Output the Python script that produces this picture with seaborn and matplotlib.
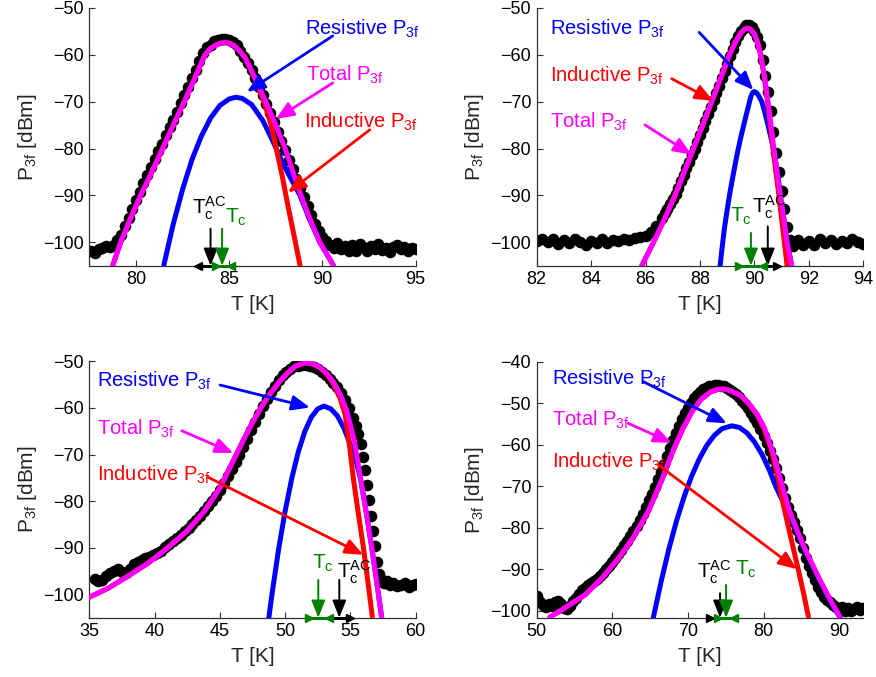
import matplotlib
matplotlib.use("Agg")
import matplotlib.pyplot as plt
import seaborn as sns
import pandas as pd

# ===================== DATA =====================
# ---- top-left panel ----
tl_dots_T = [77.6, 77.8, 78.0, 78.2, 78.4, 78.6, 78.8, 79.0, 79.2, 79.4, 79.6, 79.8, 80.0, 80.2, 80.4, 80.6, 80.8,
             81.0, 81.2, 81.4, 81.6, 81.8, 82.0, 82.2, 82.4, 82.6, 82.8, 83.0, 83.2, 83.4, 83.6, 83.8, 84.0, 84.2,
             84.4, 84.6, 84.8, 85.0, 85.2, 85.4, 85.6, 85.8, 86.0, 86.2, 86.4, 86.6, 86.8, 87.0, 87.2, 87.4, 87.6,
             87.8, 88.0, 88.2, 88.4, 88.6, 88.8, 89.0, 89.2, 89.4, 89.6, 89.8, 90.0, 90.2, 90.4, 90.6, 90.8, 91.0,
             91.2, 91.4, 91.6, 91.8, 92.0, 92.2, 92.4, 92.6, 92.8, 93.0, 93.2, 93.4, 93.6, 93.8, 94.0, 94.2, 94.4,
             94.6, 94.8, 95.0]
tl_dots_P = [-101.8, -102.2, -101.5, -101.2, -100.8, -101.0, -100.5, -99.6, -98.5, -96.6, -94.8, -92.9, -91.0,
             -89.2, -87.4, -85.7, -84.0, -82.3, -80.6, -79.0, -77.2, -75.5, -73.8, -72.1, -70.3, -68.6, -66.8,
             -65.0, -63.2, -61.4, -59.6, -58.4, -57.8, -57.1, -56.8, -56.6, -56.6, -56.8, -57.2, -57.9, -59.2,
             -60.4, -61.8, -63.3, -65.0, -66.8, -68.6, -70.4, -72.4, -74.4, -76.4, -78.4, -80.4, -82.4, -84.4,
             -86.4, -88.4, -90.4, -92.3, -94.2, -96.0, -97.6, -98.8, -99.8, -100.5, -101.2, -100.2, -101.5,
             -100.8, -101.8, -100.6, -101.9, -100.4, -101.0, -101.9, -100.8, -101.5, -100.3, -101.7, -101.2,
             -102.0, -101.0, -100.5, -101.4, -100.9, -101.8, -101.2, -101.5]
tl_total_T = [78.75, 79.18, 79.7, 80.25, 80.85, 81.43, 82.0, 82.59, 83.15, 83.7, 84.0, 84.3, 84.55, 84.77, 85.0,
              85.25, 85.5, 85.84, 86.4, 86.96, 87.5, 88.0, 88.42, 88.85, 89.33, 89.86, 90.6]
tl_total_P = [-105, -100, -95, -90, -85, -80, -75, -70, -65, -60, -58.6, -57.9, -57.5, -57.4, -57.5, -58.0,
              -58.9, -60.5, -65.0, -70.0, -75.0, -80.0, -85.0, -90.0, -95.0, -100.0, -105.0]
tl_induct_T = [78.75, 79.18, 79.7, 80.25, 80.85, 81.43, 82.0, 82.59, 83.15, 83.7, 84.0, 84.3, 84.55, 84.77, 85.0,
               85.25, 85.5, 85.84, 86.4, 86.9, 87.25, 87.54, 87.85, 88.16, 88.5, 88.8]
tl_induct_P = [-105, -100, -95, -90, -85, -80, -75, -70, -65, -60, -58.6, -57.9, -57.5, -57.4, -57.5, -58.0,
               -58.9, -60.5, -65.2, -70.4, -75.0, -80.3, -86.0, -92.4, -99.0, -105.0]
tl_resist_T = [81.5, 82.0, 82.5, 83.0, 83.5, 84.0, 84.5, 85.0, 85.36, 85.7, 86.2, 86.8, 87.27, 87.75, 88.2, 88.8,
               89.3, 89.86, 90.6]
tl_resist_P = [-104.8, -96.1, -88.7, -82.4, -77.4, -73.5, -70.8, -69.4, -69.05, -69.3, -70.6, -74.0, -77.8, -82.0,
               -85.6, -90.0, -95.0, -100.0, -105.0]
tl_xticks = [80, 85, 90, 95]
tl_yticks = [-100, -90, -80, -70, -60, -50]
tl_tcac, tl_tcac_lo, tl_tcac_hi = 84.0, 83.35, 84.2
tl_tc, tl_tc_lo, tl_tc_hi = 84.62, 84.3, 85.1

# ---- top-right panel ----
tr_dots_T = [82.0, 82.2, 82.4, 82.6, 82.8, 83.0, 83.2, 83.4, 83.6, 83.8, 84.0, 84.2, 84.4, 84.6, 84.8, 85.0, 85.2,
             85.4, 85.6, 85.8, 86.0, 86.2, 86.4,
             86.6, 86.7, 86.8, 86.9, 87.0, 87.1, 87.2, 87.3, 87.4, 87.5, 87.6, 87.7, 87.8, 87.9, 88.0, 88.1, 88.2,
             88.3, 88.4, 88.5, 88.6, 88.7, 88.8, 88.9, 89.0, 89.1, 89.2, 89.3, 89.4, 89.5, 89.6, 89.7, 89.8, 89.9,
             90.0, 90.1, 90.2, 90.3, 90.4, 90.5, 90.6, 90.7, 90.8, 90.9, 91.0, 91.1, 91.2, 91.3, 91.4,
             91.6, 91.8, 92.0, 92.2, 92.4, 92.6, 92.8, 93.0, 93.2, 93.4, 93.6, 93.8, 94.0]
tr_dots_P = [-99.8, -99.2, -100.0, -99.4, -100.3, -99.6, -100.2, -99.3, -99.9, -100.5, -99.7, -100.1, -99.4,
             -100.2, -99.5, -99.8, -99.2, -99.6, -99.0, -98.9, -98.6, -97.8, -96.5,
             -94.8, -93.8, -92.8, -91.8, -90.8, -89.6, -88.4, -87.0, -85.6, -84.2, -82.8, -81.4, -80.0, -78.6,
             -77.1, -75.6, -74.1, -72.6, -71.1, -69.6, -68.1, -66.6, -65.0, -63.5, -61.9, -60.3, -58.7, -57.3,
             -56.0, -55.0, -54.2, -53.7, -53.6, -54.0, -54.9, -56.2, -57.8, -61.0, -64.5, -68.0, -72.0, -76.5,
             -81.0, -85.0, -89.0, -93.0, -96.8, -99.5, -100.8,
             -99.6, -100.5, -99.8, -100.6, -99.3, -100.2, -99.5, -100.4, -99.7, -100.1, -99.2, -99.9, -100.3]
tr_total_T = [85.86, 86.29, 86.7, 87.08, 87.42, 87.76, 88.1, 88.43, 88.76, 89.08, 89.3, 89.5, 89.65, 89.74, 89.85,
              90.0, 90.12, 90.23, 90.38, 90.5, 90.61, 90.71, 90.83, 90.95, 91.08, 91.2, 91.37]
tr_total_P = [-105, -100, -95, -90, -85, -80, -75, -70, -65, -60, -57.3, -55.3, -54.5, -54.3, -54.5, -55.6, -57.5,
              -60, -65, -70, -75, -80, -85, -90, -95, -100, -105]
tr_induct_T = [85.86, 86.29, 86.7, 87.08, 87.42, 87.76, 88.1, 88.43, 88.76, 89.08, 89.3, 89.5, 89.65, 89.74, 89.85,
               90.0, 90.12, 90.23, 90.37, 90.48, 90.58, 90.68, 90.79, 90.9, 91.0, 91.1, 91.2]
tr_induct_P = [-105, -100, -95, -90, -85, -80, -75, -70, -65, -60, -57.3, -55.3, -54.5, -54.3, -54.5, -55.6, -57.5,
               -60, -65, -70, -75, -80, -85, -90, -95, -100, -105]
tr_resist_T = [88.74, 88.79, 88.89, 88.99, 89.09, 89.19, 89.29, 89.39, 89.49, 89.59, 89.69, 89.79, 89.84, 89.89,
               89.94, 89.99, 90.04, 90.09, 90.14, 90.19, 90.27, 90.35, 90.43, 90.5, 90.6, 90.7, 90.8, 90.88, 90.95,
               91.08, 91.2, 91.37]
tr_resist_P = [-105.0, -102.3, -97.3, -93.4, -89.7, -86.5, -83.4, -80.5, -77.8, -75.4, -73.0, -70.7, -69.5, -68.6,
               -68.0, -67.84, -67.95, -68.2, -68.6, -69.1, -70.0, -71.6, -73.4, -75.0, -77.5, -80.0, -83.5, -86.5,
               -90.0, -95.0, -100.0, -105.0]
tr_xticks = [82, 84, 86, 88, 90, 92, 94]
tr_yticks = [-100, -90, -80, -70, -60, -50]
tr_tcac, tr_tcac_lo, tr_tcac_hi = 90.49, 90.32, 90.82
tr_tc, tr_tc_lo, tr_tc_hi = 89.87, 89.44, 90.3

# ---- bottom-left panel ----
bl_dots_T = [35.4, 35.7, 36.0, 36.3, 36.6, 36.9, 37.2, 37.5, 37.8, 38.1, 38.4, 38.7, 39.0, 39.3, 39.6, 39.9, 40.2,
             40.5, 40.8, 41.1, 41.4, 41.7, 42.0, 42.3, 42.6, 42.9, 43.2, 43.5, 43.8, 44.1, 44.4, 44.7, 45.0, 45.3,
             45.6, 45.9, 46.2, 46.5, 46.8, 47.1, 47.4, 47.7, 48.0, 48.3, 48.6, 48.9, 49.2, 49.5, 49.8, 50.1, 50.4,
             50.7, 51.0, 51.3, 51.6, 51.9, 52.2, 52.5, 52.8, 53.1, 53.4, 53.7, 54.0, 54.3, 54.6, 54.9,
             55.2, 55.4, 55.6, 55.8, 56.0, 56.15, 56.3, 56.45, 56.6, 56.75, 56.9, 57.05, 57.2,
             57.4, 57.6, 57.8, 58.0, 58.3, 58.6, 58.9, 59.2, 59.5, 59.8, 60.0]
bl_dots_P = [-96.7, -97.2, -96.9, -96.0, -95.5, -95.0, -94.6, -95.2, -95.4, -94.6, -93.4, -93.0, -92.7, -92.3,
             -92.0, -91.6, -91.2, -90.6, -89.9, -89.2, -88.6, -88.0, -87.3, -86.5, -85.7, -84.9, -84.0, -83.1,
             -82.1, -81.1, -80.0, -78.8, -77.5, -76.1, -74.7, -73.2, -71.6, -70.0, -68.3, -66.6, -64.8, -63.0,
             -61.3, -59.6, -58.0, -56.5, -55.2, -54.0, -53.0, -52.2, -51.6, -51.1, -50.9, -50.8, -50.8, -51.0,
             -51.3, -51.7, -52.2, -52.9, -53.7, -54.6, -55.5, -56.8, -58.3, -60.1,
             -62.2, -63.8, -65.6, -67.7, -70.5, -73.3, -76.5, -79.8, -83.1, -86.4, -89.7, -93.0, -95.6,
             -97.0, -97.6, -97.2, -98.0, -97.6, -98.3, -97.9, -97.5, -98.4, -98.0, -97.8]
bl_total_T = [35.0, 36.5, 38.0, 39.5, 41.0, 42.45, 43.8, 45.0, 46.03, 46.8, 47.56, 48.2, 48.84, 49.5, 50.11, 50.8,
              51.57, 52.1, 52.67, 53.2, 53.69, 54.2, 54.71, 55.3, 55.8, 56.25, 56.63, 57.0, 57.4]
bl_total_P = [-100.6, -98.6, -96.0, -93.3, -90.0, -86.5, -82.2, -77.2, -71.3, -66.9, -62.8, -59.7, -57.0, -54.6,
              -52.7, -51.0, -50.3, -50.5, -51.3, -52.6, -54.4, -57.0, -60.5, -67.0, -75.5, -83.0, -89.8, -97.0,
              -105.0]
bl_induct_T = [35.0, 36.5, 38.0, 39.5, 41.0, 42.45, 43.8, 45.0, 46.03, 46.8, 47.56, 48.2, 48.84, 49.5, 50.11, 50.8,
               51.57, 52.1, 52.67, 53.2, 53.69, 54.2, 54.6, 54.95, 55.22, 55.6, 55.99, 56.35, 56.68]
bl_induct_P = [-100.6, -98.6, -96.0, -93.3, -90.0, -86.5, -82.2, -77.2, -71.3, -66.9, -62.8, -59.7, -57.0, -54.6,
               -52.7, -51.0, -50.3, -50.5, -51.4, -52.8, -54.8, -57.8, -61.5, -68.5, -75.0, -82.5, -89.8, -97.5,
               -104.8]
bl_resist_T = [48.7, 49.0, 49.5, 50.0, 50.5, 51.0, 51.5, 52.0, 52.5, 52.97, 53.5, 54.0, 54.5, 55.0, 55.4, 55.8,
               56.25, 56.63, 57.0, 57.4]
bl_resist_P = [-106.1, -99.8, -90.3, -82.1, -75.2, -69.5, -65.1, -62.0, -60.2, -59.6, -60.2, -61.7, -64.3, -67.9,
               -71.0, -75.5, -83.0, -89.8, -97.0, -105.0]
bl_xticks = [35, 40, 45, 50, 55, 60]
bl_yticks = [-100, -90, -80, -70, -60, -50]
bl_tcac, bl_tcac_lo, bl_tcac_hi = 54.15, 53.44, 54.97
bl_tc, bl_tc_lo, bl_tc_hi = 52.54, 51.83, 53.36

# ---- bottom-right panel ----
br_dots_T = [50.0, 50.4, 50.8, 51.2, 51.6, 52.0, 52.4, 52.8, 53.2, 53.6, 54.0, 54.4, 54.8, 55.2, 55.6, 56.0, 56.4,
             56.8, 57.2, 57.6, 58.0, 58.4, 58.8, 59.2, 59.6, 60.0, 60.4, 60.8, 61.2, 61.6, 62.0, 62.4, 62.8, 63.2,
             63.6, 64.0, 64.4, 64.8, 65.2, 65.6, 66.0, 66.4, 66.8, 67.2, 67.6, 68.0, 68.4, 68.8, 69.2, 69.6, 70.0,
             70.4, 70.8, 71.2, 71.6, 72.0, 72.4, 72.8, 73.2, 73.6, 74.0, 74.4, 74.8, 75.2, 75.6, 76.0, 76.4, 76.8,
             77.2, 77.6, 78.0, 78.4, 78.8, 79.2, 79.6, 80.0, 80.4, 80.8, 81.2, 81.6, 82.0, 82.4, 82.8, 83.2, 83.6,
             84.0, 84.4, 84.8, 85.2, 85.6, 86.0, 86.4, 86.8, 87.2, 87.6, 88.0, 88.4, 88.8, 89.2, 89.6, 90.0, 90.4,
             90.8, 91.2, 91.6, 92.0, 92.4, 92.8, 93.2]
br_dots_P = [-96.5, -97.8, -98.6, -99.0, -98.3, -98.8, -97.9, -97.6, -98.4, -99.3, -99.6, -98.8, -97.7, -97.0,
             -96.0, -95.0, -94.6, -93.9, -93.3, -92.8, -92.3, -91.6, -90.8, -90.0, -89.2, -88.3, -87.4, -86.4,
             -85.3, -84.2, -83.1, -82.0, -80.8, -79.5, -78.1, -76.6, -75.0, -73.4, -71.8, -70.1, -68.3, -66.5,
             -64.6, -62.7, -60.8, -58.9, -57.1, -55.4, -53.8, -52.3, -51.0, -49.8, -48.8, -47.9, -47.2, -46.6,
             -46.2, -45.9, -45.7, -45.6, -45.6, -45.7, -45.9, -46.2, -46.7, -47.2, -47.8, -48.5, -49.3, -50.2,
             -51.2, -52.3, -53.5, -54.8, -56.2, -57.8, -59.5, -61.4, -63.4, -65.6, -67.9, -70.3, -72.8, -75.0,
             -77.0, -78.6, -80.5, -82.5, -84.8, -87.2, -89.2, -90.8, -92.6, -94.2, -95.6, -96.7, -97.4, -98.0,
             -98.6, -99.1, -99.6, -99.2, -100.0, -99.4, -100.2, -99.5, -99.0, -99.8, -99.4]
br_total_T = [51.76, 53.0, 54.5, 56.39, 58.6, 60.8, 62.8, 64.77, 66.54, 68.0, 69.3, 70.6, 71.8, 73.0, 74.0, 74.7,
              75.6, 76.9, 78.0, 79.1, 80.1, 81.2, 82.2, 83.4, 84.6, 85.5, 86.4, 87.3, 88.15, 89.1, 90.13]
br_total_P = [-101.5, -100.2, -98.4, -96.2, -92.2, -87.4, -82.3, -76.0, -68.5, -61.6, -56.2, -51.8, -48.9, -47.2,
              -46.6, -46.5, -46.9, -48.0, -49.9, -52.4, -55.8, -61.5, -68.0, -75.8, -81.3, -85.2, -88.6, -92.0,
              -95.0, -98.3, -101.5]
br_induct_T = [51.76, 53.0, 54.5, 56.39, 58.6, 60.8, 62.8, 64.77, 66.54, 68.0, 69.3, 70.6, 71.8, 73.0, 74.0, 74.7,
               75.6, 76.9, 78.0, 79.1, 80.1, 81.0, 81.8, 82.63, 83.6, 84.61, 85.3, 85.94]
br_induct_P = [-101.5, -100.2, -98.4, -96.2, -92.2, -87.4, -82.3, -76.0, -68.5, -61.6, -56.2, -51.8, -48.9, -47.2,
               -46.6, -46.5, -46.9, -48.0, -50.0, -52.6, -56.3, -61.0, -67.0, -74.5, -82.3, -90.2, -95.8, -101.5]
br_resist_T = [65.42, 66.5, 67.5, 68.5, 69.5, 70.5, 71.5, 72.5, 73.5, 74.5, 75.8, 76.8, 77.8, 78.8, 79.8, 80.8,
               81.5, 82.2, 82.9, 83.6, 84.6, 85.5, 86.4, 87.3, 88.15, 89.1, 90.13]
br_resist_P = [-101.7, -92.6, -85.0, -78.3, -72.5, -67.5, -63.4, -60.1, -57.7, -56.1, -55.4, -55.8, -57.1, -59.3,
               -62.3, -66.2, -69.5, -72.3, -74.8, -77.6, -81.6, -85.4, -88.8, -92.2, -95.2, -98.5, -101.7]
br_xticks = [50, 60, 70, 80, 90]
br_yticks = [-100, -90, -80, -70, -60, -50, -40]
br_tcac, br_tcac_lo, br_tcac_hi = 74.25, 72.93, 74.25
br_tc, br_tc_lo, br_tc_hi = 75.05, 74.03, 76.1

label_res = "Resistive P$_{\\mathrm{3f}}$"
label_tot = "Total P$_{\\mathrm{3f}}$"
label_ind = "Inductive P$_{\\mathrm{3f}}$"
label_tcac = "$\\mathrm{T_c^{AC}}$"
label_tc = "$\\mathrm{T_c}$"

# ===================== STYLE =====================
sns.set_style("ticks")
plt.rcParams["font.family"] = ["Liberation Sans", "DejaVu Sans"]
plt.rcParams["mathtext.fontset"] = "custom"
plt.rcParams["mathtext.rm"] = "Liberation Sans"
plt.rcParams["mathtext.it"] = "Liberation Sans"
plt.rcParams["mathtext.sf"] = "Liberation Sans"
plt.rcParams["mathtext.bf"] = "Liberation Sans:bold"

BLUE = (0, 0, 1)
RED = (1, 0, 0)
MAG = (1, 0, 1)
GREEN = (0, 0.5, 0)
ANN_ARROW = "-|>,head_length=0.6,head_width=0.25"
TC_ARROW = "-|>,head_length=0.7,head_width=0.28"

fig = plt.figure(figsize=(8.76, 6.77), dpi=100)

panels = [
    dict(rect=[0.102, 0.6075, 0.3725, 0.3807], xlim=(77.5, 95), ylim=(-105, -50),
         dots=(tl_dots_T, tl_dots_P), tot=(tl_total_T, tl_total_P), ind=(tl_induct_T, tl_induct_P),
         res=(tl_resist_T, tl_resist_P), xt=tl_xticks, yt=tl_yticks,
         ann=[(label_res, BLUE, (89.05, -55.76), (90.55, -55.97), (85.95, -67.9)),
              (label_tot, MAG, (89.1, -65.57), (90.55, -66.0), (87.5, -73.7)),
              (label_ind, RED, (89.0, -75.65), (92.54, -76.0), (88.15, -89.4))],
         tcac=(tl_tcac, tl_tcac_lo, tl_tcac_hi, '<', 'lo', -97.1, (83.0, -94.1)),
         tc=(tl_tc, tl_tc_lo, tl_tc_hi, -97.1, (84.8, -95.8))),
    dict(rect=[0.6127, 0.6075, 0.3728, 0.3807], xlim=(82, 94), ylim=(-105, -50),
         dots=(tr_dots_T, tr_dots_P), tot=(tr_total_T, tr_total_P), ind=(tr_induct_T, tr_induct_P),
         res=(tr_resist_T, tr_resist_P), xt=tr_xticks, yt=tr_yticks,
         ann=[(label_res, BLUE, (82.49, -55.76), (87.97, -55.2), (89.96, -67.5)),
              (label_ind, RED, (82.49, -65.7), (86.96, -65.1), (88.49, -69.8)),
              (label_tot, MAG, (82.49, -75.65), (85.98, -74.95), (87.69, -81.3))],
         tcac=(tr_tcac, tr_tcac_lo, tr_tcac_hi, '>', 'hi', -96.6, (89.9, -93.8)),
         tc=(tr_tc, tr_tc_lo, tr_tc_hi, -98.0, (89.1, -95.6))),
    dict(rect=[0.102, 0.0876, 0.3725, 0.3787], xlim=(35, 60), ylim=(-105, -50),
         dots=(bl_dots_T, bl_dots_P), tot=(bl_total_T, bl_total_P), ind=(bl_induct_T, bl_induct_P),
         res=(bl_resist_T, bl_resist_P), xt=bl_xticks, yt=bl_yticks,
         ann=[(label_res, BLUE, (35.57, -55.44), (45.01, -55.08), (51.9, -59.9)),
              (label_tot, MAG, (35.57, -65.66), (42.08, -64.9), (46.03, -69.7)),
              (label_ind, RED, (35.57, -75.6), (44.12, -74.9), (55.99, -91.5))],
         tcac=(bl_tcac, bl_tcac_lo, bl_tcac_hi, '>', 'hi', -96.9, (53.95, -96.5)),
         tc=(bl_tc, bl_tc_lo, bl_tc_hi, -96.9, (52.03, -94.4))),
    dict(rect=[0.6127, 0.0876, 0.3728, 0.3777], xlim=(50, 93.2), ylim=(-101.7, -40),
         dots=(br_dots_T, br_dots_P), tot=(br_total_T, br_total_P), ind=(br_induct_T, br_induct_P),
         res=(br_resist_T, br_resist_P), xt=br_xticks, yt=br_yticks,
         ann=[(label_res, BLUE, (51.98, -45.55), (64.1, -44.75), (75.14, -54.8)),
              (label_tot, MAG, (51.98, -55.44), (62.1, -54.8), (67.86, -59.5)),
              (label_ind, RED, (51.98, -65.5), (66.1, -64.85), (84.4, -90.0))],
         tcac=(br_tcac, br_tcac_lo, br_tcac_hi, '>', 'lo', -95.8, (71.17, -92.2)),
         tc=(br_tc, br_tc_lo, br_tc_hi, -93.8, (76.24, -91.4))),
]


def curve(ax, T, P, color, z):
    df = pd.DataFrame({"T": T, "P": P})
    sns.lineplot(data=df, x="T", y="P", ax=ax, color=color, linewidth=3.6, sort=False,
                 estimator=None, zorder=z)


for p in panels:
    ax = fig.add_axes(p["rect"])
    dd = pd.DataFrame({"T": p["dots"][0], "P": p["dots"][1]})
    sns.scatterplot(data=dd, x="T", y="P", ax=ax, color="k", s=70, linewidth=0, zorder=2)
    curve(ax, *p["res"], BLUE, 3)
    curve(ax, *p["ind"], RED, 4)
    curve(ax, *p["tot"], MAG, 5)

    ax.set_xlim(*p["xlim"])
    ax.set_ylim(*p["ylim"])
    ax.set_xticks(p["xt"])
    ax.set_yticks(p["yt"])
    for s in ["top", "right"]:
        ax.spines[s].set_visible(False)
    for s in ["left", "bottom"]:
        ax.spines[s].set_color("#303030")
        ax.spines[s].set_linewidth(0.9)
    ax.tick_params(direction="in", length=4, width=0.8, labelsize=13, pad=4, colors="#303030",
                   labelcolor="black")
    ax.set_xlabel("T [K]", fontsize=15, labelpad=5)
    ax.set_ylabel("P$_{\\mathrm{3f}}$ [dBm]", fontsize=15, labelpad=3)

    for text, col, tpos, tail, tip in p["ann"]:
        ax.text(tpos[0], tpos[1], text, color=col, fontsize=14.5, ha="left", va="baseline", zorder=8)
        ax.annotate("", xy=tip, xytext=tail,
                    arrowprops=dict(arrowstyle=ANN_ARROW, color=col, lw=2.0, mutation_scale=18,
                                    shrinkA=0, shrinkB=0), zorder=8)

    y0 = p["ylim"][0]
    # T_c^AC marker (black)
    x, lo, hi, mk, end, ytop, lpos = p["tcac"]
    ax.plot([lo, hi], [y0, y0], color="k", lw=2.2, clip_on=False, zorder=9)
    ax.plot([lo if end == "lo" else hi], [y0], marker=mk, ms=6, color="k", clip_on=False, zorder=9)
    ax.annotate("", xy=(x, y0), xytext=(x, ytop), annotation_clip=False,
                arrowprops=dict(arrowstyle=TC_ARROW, color="k", lw=1.4, mutation_scale=15,
                                shrinkA=0, shrinkB=0), zorder=9)
    ax.text(lpos[0], lpos[1], label_tcac, color="k", fontsize=15, ha="left", va="baseline", zorder=9)
    # T_c marker (green)
    x, lo, hi, ytop, lpos = p["tc"]
    ax.plot([lo, hi], [y0, y0], color=GREEN, lw=2.2, clip_on=False, zorder=10)
    ax.plot([lo], [y0], marker=">", ms=6, color=GREEN, clip_on=False, zorder=10)
    ax.plot([hi], [y0], marker="<", ms=6, color=GREEN, clip_on=False, zorder=10)
    ax.annotate("", xy=(x, y0), xytext=(x, ytop), annotation_clip=False,
                arrowprops=dict(arrowstyle=TC_ARROW, color=GREEN, lw=1.4, mutation_scale=15,
                                shrinkA=0, shrinkB=0), zorder=10)
    ax.text(lpos[0], lpos[1], label_tc, color=GREEN, fontsize=15, ha="left", va="baseline", zorder=10)

fig.savefig("out.png", dpi=100)
